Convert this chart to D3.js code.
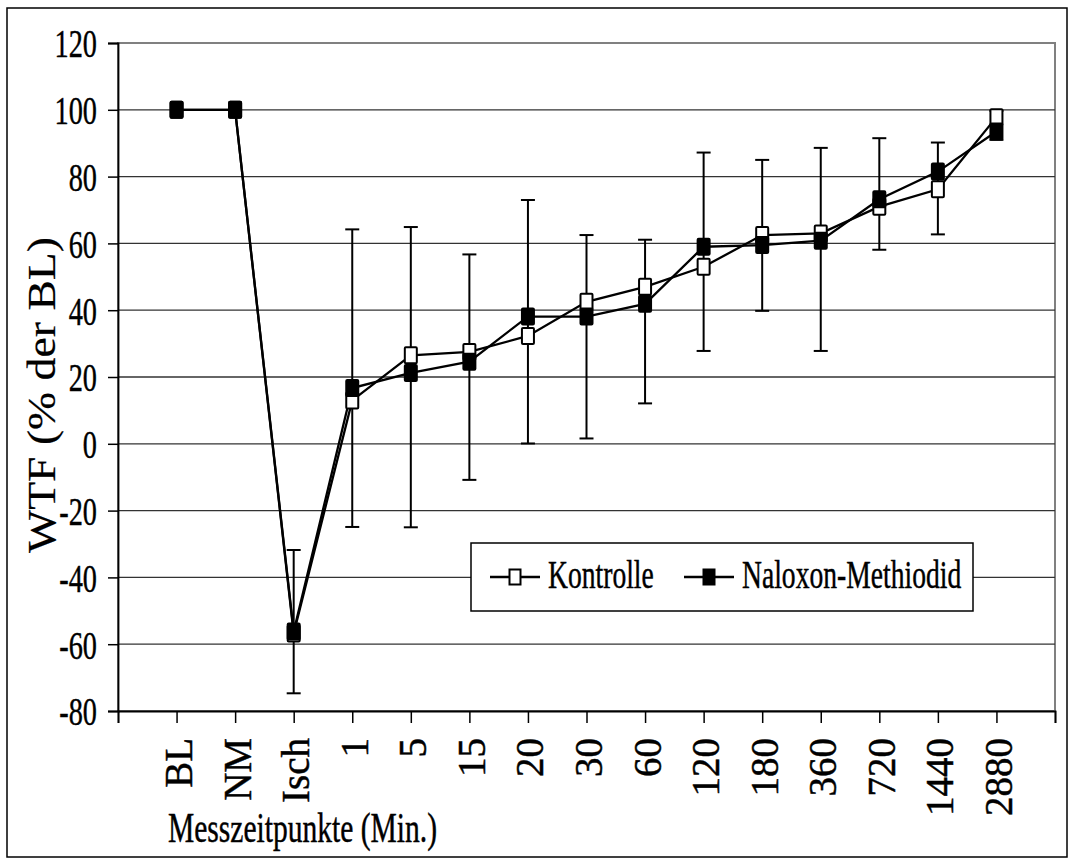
<!DOCTYPE html>
<html>
<head>
<meta charset="utf-8">
<script src="https://cdn.jsdelivr.net/npm/d3@7"></script>
<style>
  html, body { margin: 0; padding: 0; background: #fff; }
  svg { display: block; }
  text { stroke: #000; stroke-width: 0.45px; }
</style>
</head>
<body>
<svg id="chart" width="1072" height="863" font-family="Liberation Serif"></svg>
<script>
// Measurement points (x-axis categories)
const categories = ["BL", "NM", "Isch", "1", "5", "15", "20", "30", "60", "120", "180", "360", "720", "1440", "2880"];

// WTF in % of baseline, per group
const kontrolle = [100, 100, -56.8, 13, 26.5, 27.5, 32.3, 42.5, 47, 53, 62.5, 63, 71, 76.2, 97.8];
const naloxon   = [100, 100, -56.2, 16.7, 21.2, 24.6, 38.1, 38.1, 41.9, 59, 59.5, 60.8, 73.2, 81.5, 93.5];

// Error bar bounds (upper / lower end) per measurement point
const errHigh = [null, null, -31.8, 64.2, 64.9, 56.7, 73, 62.5, 61.1, 87.2, 85, 88.6, 91.5, 90.2, 99.7];
const errLow  = [null, null, -74.7, -24.9, -25, -10.8, 0.1, 1.6, 12.1, 27.8, 39.8, 27.8, 58.1, 62.7, 91];

// Axis ticks
const yTicks = [-80, -60, -40, -20, 0, 20, 40, 60, 80, 100, 120];
const seriesNames = ["Kontrolle", "Naloxon-Methiodid"];

const FONT = "Liberation Serif";
const svg = d3.select("#chart");
const plot = { left: 118, right: 1055, top: 43, bottom: 711 };
const squeeze = 0.69; // horizontal condensing of upright text

const x = d3.scaleLinear().domain([0, categories.length + 1]).range([plot.left, plot.right]);
const y = d3.scaleLinear().domain([-80, 120]).range([plot.bottom, plot.top]);

// outer frame
svg.append("rect")
  .attr("x", 7).attr("y", 8).attr("width", 1060).attr("height", 849)
  .attr("fill", "#fff").attr("stroke", "#000").attr("stroke-width", 1.5);

// plot area border
svg.append("rect")
  .attr("x", plot.left).attr("y", plot.top)
  .attr("width", plot.right - plot.left).attr("height", plot.bottom - plot.top)
  .attr("fill", "none").attr("stroke", "#808080").attr("stroke-width", 2);

// horizontal gridlines
svg.append("g").selectAll("line")
  .data(yTicks.filter(v => v > -80 && v < 120))
  .join("line")
  .attr("x1", plot.left).attr("x2", plot.right)
  .attr("y1", d => y(d)).attr("y2", d => y(d))
  .attr("stroke", "#333").attr("stroke-width", 1.3);

// y axis
const yAxis = svg.append("g")
  .attr("transform", `translate(${plot.left},0)`)
  .call(d3.axisLeft(y).tickValues(yTicks).tickSize(10));
yAxis.attr("font-family", FONT).attr("font-size", null);
yAxis.select(".domain").attr("stroke", "#000").attr("stroke-width", 1.8);
yAxis.selectAll(".tick line").attr("stroke", "#000").attr("stroke-width", 1.5);
yAxis.selectAll(".tick text")
  .attr("font-size", 41)
  .attr("x", -21 / squeeze)
  .attr("dy", "0.34em")
  .attr("transform", `scale(${squeeze},1)`)
  .text(d => String(d));

// x axis
const xAxis = svg.append("g")
  .attr("transform", `translate(0,${plot.bottom})`)
  .call(d3.axisBottom(x)
    .tickValues(d3.range(0, categories.length + 2))
    .tickSize(12)
    .tickFormat(i => categories[i - 1] || ""));
xAxis.attr("font-family", FONT).attr("font-size", null);
xAxis.select(".domain").attr("stroke", "#000").attr("stroke-width", 1.8);
xAxis.selectAll(".tick line").attr("stroke", "#000").attr("stroke-width", 1.5);
xAxis.selectAll(".tick text")
  .attr("font-size", 39)
  .attr("transform", "rotate(-90)")
  .attr("text-anchor", "end")
  .attr("x", -27)
  .attr("y", 15)
  .attr("dy", 0);

// axis titles
svg.append("text")
  .attr("font-family", FONT)
  .attr("transform", "translate(55,395) rotate(-90)")
  .attr("text-anchor", "middle")
  .attr("font-size", 41)
  .attr("textLength", 316)
  .attr("lengthAdjust", "spacingAndGlyphs")
  .style("stroke-width", "0.2px")
  .text("WTF (% der BL)");

svg.append("text")
  .attr("font-family", FONT)
  .attr("x", 168).attr("y", 842)
  .attr("font-size", 42)
  .attr("textLength", 269)
  .attr("lengthAdjust", "spacingAndGlyphs")
  .text("Messzeitpunkte (Min.)");

// error bars
const capHalf = 7;
const eb = svg.append("g").attr("stroke", "#000").attr("stroke-width", 2);
categories.forEach((c, i) => {
  if (errHigh[i] == null) return;
  const cx = x(i + 1);
  eb.append("line").attr("x1", cx).attr("x2", cx).attr("y1", y(errLow[i])).attr("y2", y(errHigh[i]));
  eb.append("line").attr("x1", cx - capHalf).attr("x2", cx + capHalf).attr("y1", y(errHigh[i])).attr("y2", y(errHigh[i]));
  eb.append("line").attr("x1", cx - capHalf).attr("x2", cx + capHalf).attr("y1", y(errLow[i])).attr("y2", y(errLow[i]));
});

// series lines and markers
const mw = 12, mh = 16;
const line = d3.line().x((d, i) => x(i + 1)).y(d => y(d));
const series = [
  { name: seriesNames[0], values: kontrolle, fill: "#fff" },
  { name: seriesNames[1], values: naloxon, fill: "#000" }
];
series.forEach(s => {
  svg.append("path")
    .datum(s.values)
    .attr("d", line)
    .attr("fill", "none")
    .attr("stroke", "#000")
    .attr("stroke-width", 2.3);
});
series.forEach(s => {
  svg.append("g").selectAll("rect")
    .data(s.values)
    .join("rect")
    .attr("x", (d, i) => x(i + 1) - mw / 2)
    .attr("y", d => y(d) - mh / 2)
    .attr("width", mw).attr("height", mh)
    .attr("rx", 1)
    .attr("fill", s.fill)
    .attr("stroke", "#000").attr("stroke-width", 2);
});

// legend
const lg = svg.append("g");
lg.append("rect")
  .attr("x", 471).attr("y", 543).attr("width", 502).attr("height", 68)
  .attr("fill", "#fff").attr("stroke", "#000").attr("stroke-width", 1.5);
const legendItems = [
  { s: series[0], x0: 490, tx: 548 },
  { s: series[1], x0: 684, tx: 742 }
];
legendItems.forEach(it => {
  const ly = 577;
  lg.append("line")
    .attr("x1", it.x0).attr("x2", it.x0 + 50).attr("y1", ly).attr("y2", ly)
    .attr("stroke", "#000").attr("stroke-width", 2.3);
  lg.append("rect")
    .attr("x", it.x0 + 25 - 5.5).attr("y", ly - 7.5)
    .attr("width", 11).attr("height", 15)
    .attr("fill", it.s.fill).attr("stroke", "#000").attr("stroke-width", 2);
  lg.append("text")
    .attr("font-family", FONT)
    .attr("transform", `translate(${it.tx},588) scale(${squeeze},1)`)
    .attr("font-size", 40)
    .text(it.s.name);
});
</script>
</body>
</html>
